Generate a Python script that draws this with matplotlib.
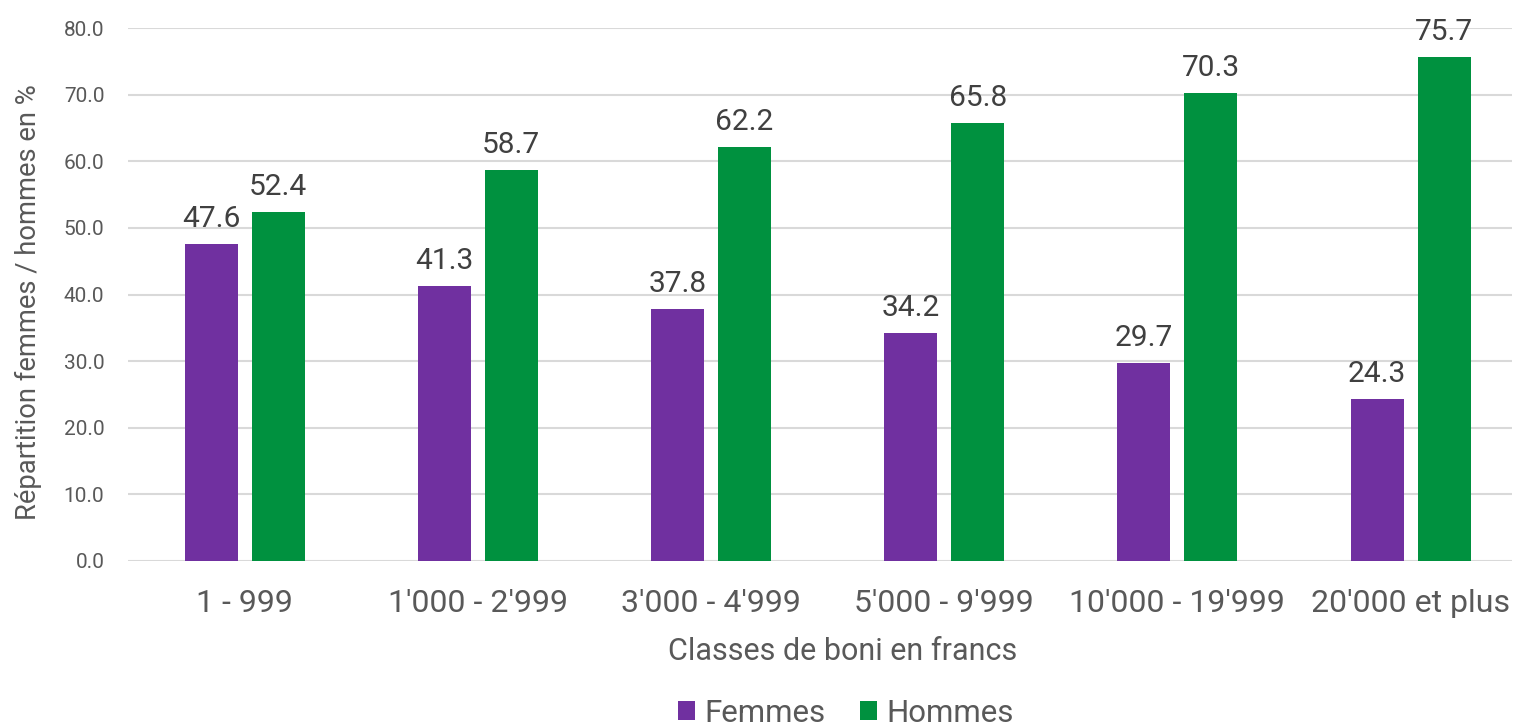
import matplotlib
matplotlib.use("Agg")
import matplotlib.pyplot as plt
import numpy as np

categories = ["1 - 999", "1'000 - 2'999", "3'000 - 4'999", "5'000 - 9'999", "10'000 - 19'999", "20'000 et plus"]
femmes = [47.6, 41.3, 37.8, 34.2, 29.7, 24.3]
hommes = [52.4, 58.7, 62.2, 65.8, 70.3, 75.7]
yticks = [0, 10, 20, 30, 40, 50, 60, 70, 80]

plt.rcParams['font.family'] = ['Roboto', 'DejaVu Sans']

W, H = 1513, 728
fig = plt.figure(figsize=(W/100, H/100), dpi=100)
left, right, top, bottom = 128, 1512, 28, 561
ax = fig.add_axes([left/W, 1-bottom/H, (right-left)/W, (bottom-top)/H])

x = np.arange(len(categories))
w = 0.227
off = 0.1435
c_f = '#7030A0'
c_h = '#00913F'
b1 = ax.bar(x - off, femmes, w, color=c_f, label='Femmes', zorder=3)
b2 = ax.bar(x + off, hommes, w, color=c_h, label='Hommes', zorder=3)

for bars, vals in ((b1, femmes), (b2, hommes)):
    for r, v in zip(bars, vals):
        ax.text(r.get_x() + r.get_width()/2, v + 1.6, f"{v:.1f}", ha='center', va='bottom',
                fontsize=21.5, color='#404040', clip_on=False)

spacing = 233.2
ax.set_xlim(-0.5, (right-left)/spacing - 0.5)
ax.set_ylim(0, 80)
ax.set_yticks(yticks)
ax.set_yticklabels([f"{t:.1f}" for t in yticks], fontsize=15, color='#595959')
ax.set_xticks(x)
ax.set_xticklabels(categories, fontsize=23, color='#595959')
ax.tick_params(axis='y', length=0, pad=17)
ax.tick_params(axis='x', length=0, pad=20)
ax.grid(axis='y', color='#D9D9D9', linewidth=1.5, zorder=0)
for s in ax.spines.values():
    s.set_visible(False)

fig.text(843/W, 1-651/H, "Classes de boni en francs", fontsize=22, color='#595959',
         ha='center', va='center')
fig.text(28/W, 1-302/H, "Répartition femmes / hommes en %", fontsize=19.7, color='#595959',
         ha='center', va='center', rotation=90)

leg = fig.legend(handles=[b1, b2], labels=['Femmes', 'Hommes'], loc='center', bbox_to_anchor=(846/W, 1-713/H),
                 ncol=2, frameon=False, fontsize=22.5, handlelength=0.55, handleheight=0.55,
                 handletextpad=0.3, columnspacing=1.1, labelcolor='#595959')

fig.savefig("out.png", dpi=100)
